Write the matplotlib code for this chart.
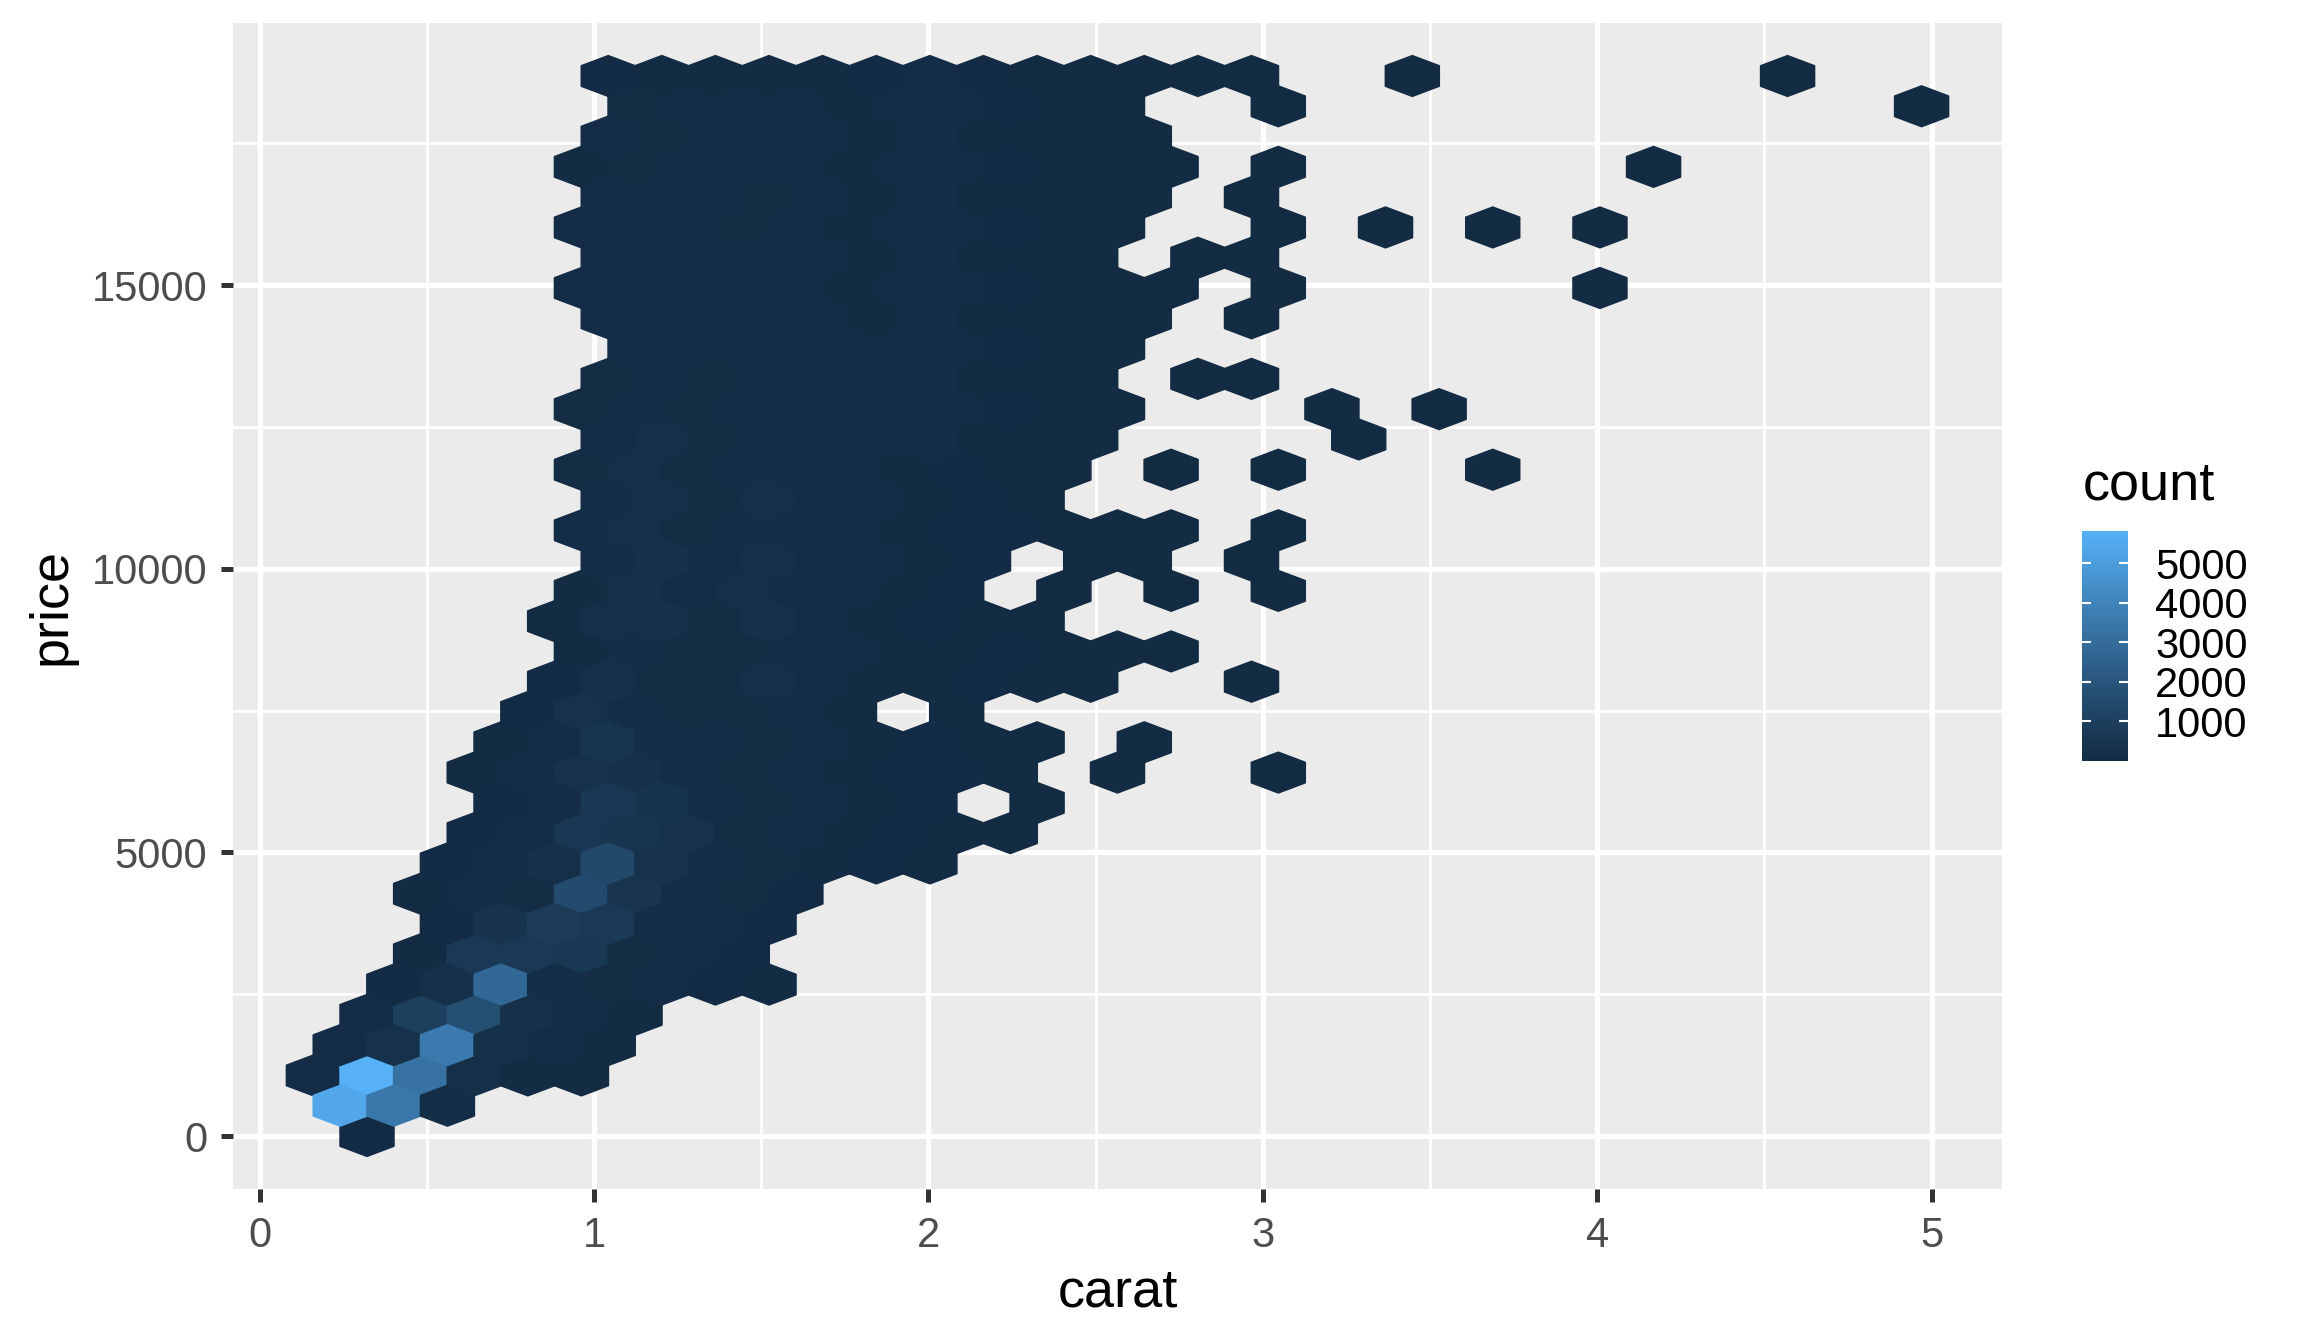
import numpy as np
import matplotlib

matplotlib.use('agg')

import matplotlib.pyplot as plt
from matplotlib.colors import ListedColormap, to_rgb

# geom_hex bins: 30 bins over the carat and price ranges of the data
carat_range = (0.2, 5.01)
price_range = (326, 18823)
carat_binwidth = (carat_range[1] - carat_range[0]) / 30
price_binwidth = (price_range[1] - price_range[0]) / 30
row_height = price_binwidth * np.sqrt(3) / 2

# hex counts, one list per hexagon row (bottom to top);
# row_start is the column index of the first cell, 0 = empty cell
row_start = [2, 1, 1, 1, 2, 2, 3, 3, 3, 3, 4, 4, 4, 4, 5, 5, 6, 5,
             6, 6, 6, 6, 6, 6, 6, 6, 7, 6, 6, 6, 6, 6, 6, 6, 7, 6]
row_counts = [
    [25],
    [5400, 3500, 150],
    [90, 5810, 3250, 220, 60, 15],
    [70, 320, 3600, 230, 70, 20],
    [90, 1000, 1650, 260, 90, 15],
    [40, 260, 2800, 170, 110, 70, 40, 10],
    [50, 700, 720, 620, 110, 70, 30],
    [40, 420, 820, 700, 130, 80, 35],
    [15, 90, 110, 1500, 460, 160, 110, 25],
    [40, 80, 260, 1400, 350, 120, 110, 60, 30, 10],
    [40, 90, 560, 500, 300, 110, 90, 60, 40, 20, 8],
    [30, 80, 560, 450, 120, 110, 70, 50, 30, 0, 6],
    [15, 80, 300, 260, 130, 100, 80, 60, 40, 25, 10, 0, 3, 0, 0, 1],
    [20, 80, 500, 160, 130, 110, 80, 60, 40, 20, 8, 0, 2],
    [30, 300, 130, 110, 100, 80, 60, 0, 20],
    [30, 250, 110, 100, 220, 80, 60, 50, 40, 20, 6, 0, 0, 1],
    [60, 150, 100, 100, 90, 70, 60, 50, 30, 15, 4, 2],
    [15, 200, 260, 110, 240, 80, 60, 40, 20, 8],
    [60, 260, 120, 200, 90, 70, 60, 40, 0, 10, 0, 3, 0, 1],
    [150, 240, 120, 220, 80, 70, 50, 30, 0, 10, 4, 0, 1],
    [120, 220, 110, 180, 80, 70, 60, 40, 25, 10, 5, 2, 0, 1],
    [140, 220, 110, 200, 80, 70, 50, 30, 8],
    [110, 200, 100, 180, 80, 70, 60, 40, 20, 6, 0, 2, 0, 1],
    [120, 190, 100, 180, 80, 70, 160, 50, 20, 6],
    [100, 170, 100, 160, 80, 70, 90, 80, 30, 10, 3],
    [110, 170, 100, 170, 80, 70, 160, 50, 20, 6, 0, 1, 2],
    [160, 90, 160, 80, 70, 90, 80, 30, 10, 3],
    [90, 150, 90, 160, 80, 60, 150, 50, 20, 8, 3, 0, 1],
    [80, 140, 90, 130, 70, 60, 90, 80, 25, 8, 4, 2, 0, 1],
    [90, 140, 90, 150, 70, 60, 150, 50, 20, 6, 0, 2, 1],
    [70, 130, 80, 110, 70, 60, 90, 90, 25, 8, 3, 0, 0, 1],
    [80, 120, 80, 100, 70, 60, 140, 50, 20, 6, 2, 0, 1],
    [60, 110, 80, 90, 70, 60, 90, 130, 25, 8, 4, 2, 0, 1],
    [70, 110, 80, 90, 70, 60, 140, 50, 20, 6, 2],
    [100, 80, 90, 70, 60, 90, 130, 25, 8, 3, 0, 0, 1],
    [40, 60, 50, 60, 50, 40, 80, 40, 20, 8, 4, 2, 1],
]

# isolated cells of the very large stones
lone_row = [22, 23, 24, 24, 28, 30, 30, 30, 32, 34, 35, 35]
lone_col = [23, 20, 20, 22, 25, 21, 23, 25, 26, 31, 21, 28]
lone_count = [1, 1, 1, 1, 1, 1, 1, 1, 1, 1, 1, 1]

count_low, count_high = '#132B43', '#56B1F7'

# sRGB <-> CIELAB, ggplot interpolates its gradient in Lab space
RGB2XYZ = np.array([[0.4124564, 0.3575761, 0.1804375],
                    [0.2126729, 0.7151522, 0.0721750],
                    [0.0193339, 0.1191920, 0.9503041]])
WHITE = np.array([0.95047, 1.0, 1.08883])
EPS = 6 / 29


def to_lab(colour):
    rgb = np.array(to_rgb(colour))
    lin = np.where(rgb <= 0.04045, rgb / 12.92, ((rgb + 0.055) / 1.055) ** 2.4)
    xyz = RGB2XYZ @ lin / WHITE
    f = np.where(xyz > EPS ** 3, np.cbrt(xyz), xyz / (3 * EPS ** 2) + 4 / 29)
    return np.array([116 * f[1] - 16, 500 * (f[0] - f[1]), 200 * (f[1] - f[2])])


def from_lab(lab):
    fy = (lab[:, 0] + 16) / 116
    f = np.stack([fy + lab[:, 1] / 500, fy, fy - lab[:, 2] / 200], axis=1)
    xyz = np.where(f > EPS, f ** 3, 3 * EPS ** 2 * (f - 4 / 29)) * WHITE
    lin = np.clip(xyz @ np.linalg.inv(RGB2XYZ).T, 0, None)
    rgb = np.where(lin <= 0.0031308, 12.92 * lin, 1.055 * lin ** (1 / 2.4) - 0.055)
    return np.clip(rgb, 0, 1)


def gradient_cmap(low, high, n=256):
    t = np.linspace(0, 1, n)[:, None]
    a, b = to_lab(low), to_lab(high)
    return ListedColormap(from_lab(a + t * (b - a)))


def main():
    xs, ys, cs = [], [], []
    for r, (start, counts) in enumerate(zip(row_start, row_counts)):
        for k, n in enumerate(counts):
            if n > 0:
                xs.append((start + k + 0.5 * (r % 2)) * carat_binwidth)
                ys.append(r * row_height)
                cs.append(n)
    for r, m, n in zip(lone_row, lone_col, lone_count):
        xs.append((m + 0.5 * (r % 2)) * carat_binwidth)
        ys.append(r * row_height)
        cs.append(n)
    xs, ys, cs = np.array(xs), np.array(ys), np.array(cs, dtype=float)

    plt.rcParams['font.family'] = ['Liberation Sans', 'DejaVu Sans']

    fig = plt.figure(figsize=(7.68, 4.48), dpi=300)
    ax = fig.add_axes([233 / 2304, 1 - 1189 / 1344,
                       (2002 - 233) / 2304, (1189 - 23) / 1344])
    ax.set_facecolor('#EBEBEB')
    for s in ax.spines.values():
        s.set_visible(False)

    nx, ny = 32, 18
    hb = ax.hexbin(xs, ys, C=cs, reduce_C_function=np.sum,
                   gridsize=(nx, ny),
                   extent=(0, nx * carat_binwidth, 0, ny * 2 * row_height),
                   cmap=gradient_cmap(count_low, count_high),
                   vmin=cs.min(), vmax=cs.max(),
                   edgecolors='face', linewidths=0.45)

    xr = xs.max() - xs.min()
    yr = ys.max() - ys.min()
    ax.set_xlim(xs.min() - 0.05 * xr, xs.max() + 0.05 * xr)
    ax.set_ylim(ys.min() - 0.05 * yr, ys.max() + 0.05 * yr)

    ax.set_xticks([0, 1, 2, 3, 4, 5])
    ax.set_xticks([0.5, 1.5, 2.5, 3.5, 4.5], minor=True)
    ax.set_yticks([0, 5000, 10000, 15000])
    ax.set_yticks([2500, 7500, 12500, 17500], minor=True)
    ax.set_axisbelow(True)
    ax.grid(which='major', color='white', linewidth=1.25)
    ax.grid(which='minor', color='white', linewidth=0.65)
    ax.tick_params(which='major', length=3.0, width=1.2, color='#333333',
                   labelsize=10, labelcolor='#4D4D4D')
    ax.tick_params(axis='x', pad=3.4)
    ax.tick_params(axis='y', pad=3.2)
    ax.tick_params(which='minor', length=0)

    fig.text(1117.5 / 2304, 1 - 1306.7 / 1344, 'carat', fontsize=13,
             ha='center', va='baseline')
    fig.text(77 / 2304, 1 - 606 / 1344, 'price', fontsize=13,
             rotation=90, ha='right', va='center')

    # colour bar legend
    fig.text(2083 / 2304, 1 - 499 / 1344, 'count', fontsize=13,
             ha='left', va='baseline')
    cax = fig.add_axes([2082 / 2304, 1 - 761 / 1344, 46 / 2304, 230 / 1344])
    cbar = fig.colorbar(hb, cax=cax, ticks=[1000, 2000, 3000, 4000, 5000])
    cbar.outline.set_visible(False)
    cax.tick_params(direction='in', left=True, right=True, length=2.2,
                    width=0.5, color='white', labelsize=10,
                    labelcolor='black', pad=6.5)

    fig.savefig('out.png', dpi=300, facecolor='white')


if __name__ == '__main__':
    main()
